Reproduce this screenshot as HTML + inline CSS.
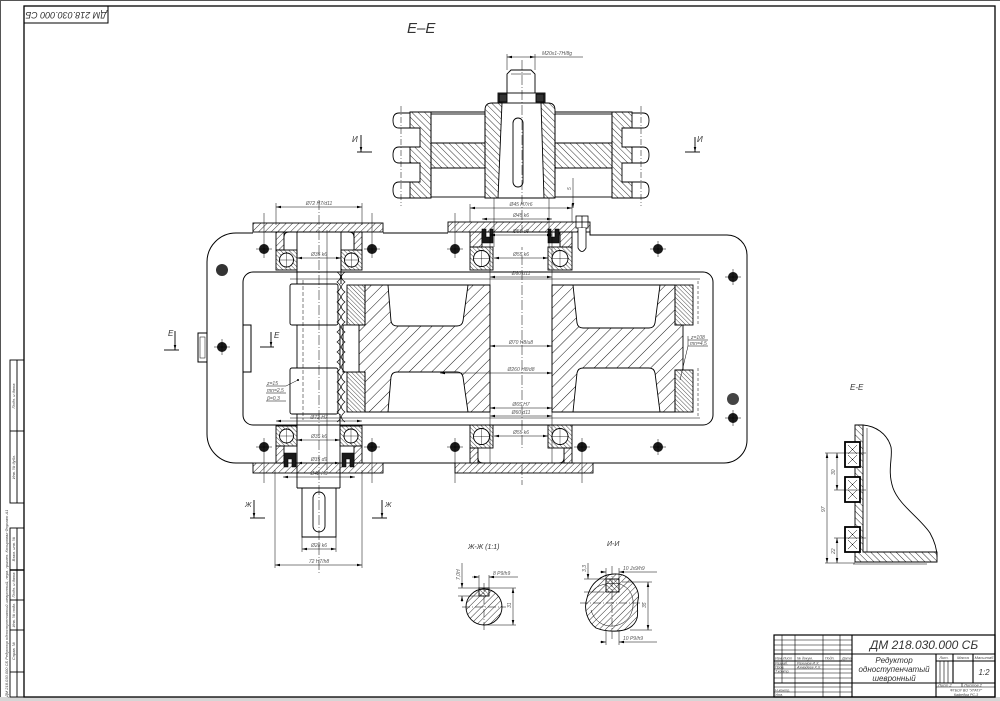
<!DOCTYPE html>
<html><head><meta charset="utf-8">
<style>
html,body{margin:0;padding:0;background:#fff;width:1000px;height:701px;overflow:hidden}
svg{display:block}
text{font-family:"Liberation Sans",sans-serif;font-style:italic;fill:#333}
.d{font-size:5px;fill:#555}
.t{font-size:4px;fill:#444}
</style></head><body>
<svg width="1000" height="701" viewBox="0 0 1000 701" xmlns="http://www.w3.org/2000/svg">
<defs>
 <pattern id="hs" width="4.5" height="4.5" patternUnits="userSpaceOnUse" patternTransform="rotate(45)"><line x1="0" y1="0" x2="0" y2="4.5" stroke="#000" stroke-width="0.8"/></pattern>
 <pattern id="hb" width="4.5" height="4.5" patternUnits="userSpaceOnUse" patternTransform="rotate(-45)"><line x1="0" y1="0" x2="0" y2="4.5" stroke="#000" stroke-width="0.8"/></pattern>
 <pattern id="hw" width="8" height="8" patternUnits="userSpaceOnUse" patternTransform="rotate(45)"><line x1="0" y1="0" x2="0" y2="8" stroke="#000" stroke-width="0.9"/></pattern>
 <pattern id="hd" width="3" height="3" patternUnits="userSpaceOnUse" patternTransform="rotate(-45)"><line x1="0" y1="0" x2="0" y2="3" stroke="#000" stroke-width="0.7"/></pattern>
 <marker id="ar" viewBox="0 0 10 10" refX="10" refY="5" markerWidth="5" markerHeight="5" orient="auto-start-reverse" markerUnits="userSpaceOnUse"><path d="M0,2.5 L10,5 L0,7.5z" fill="#000"/></marker>
</defs>

<!-- page frame -->
<rect x="0" y="697" width="1000" height="4" fill="#d6d6d6"/>
<line x1="0.5" y1="0" x2="0.5" y2="697" stroke="#555" stroke-width="1"/>
<line x1="0" y1="0.5" x2="1000" y2="0.5" stroke="#555" stroke-width="1"/>
<rect x="24" y="6" width="971" height="691" fill="none" stroke="#000" stroke-width="1.3"/>

<!-- top-left stamp -->
<rect x="24" y="6" width="84" height="17" fill="none" stroke="#000" stroke-width="1"/>
<text transform="translate(66,14.5) rotate(180)" font-size="9" text-anchor="middle" dominant-baseline="middle">ДМ 218.030.000 СБ</text>

<!-- left margin -->
<g stroke="#000" stroke-width="0.9" fill="none">
 <rect x="10" y="360" width="14" height="143"/>
 <line x1="17" y1="360" x2="17" y2="503"/>
 <line x1="10" y1="431" x2="24" y2="431"/>
 <rect x="10" y="528" width="14" height="169"/>
 <line x1="17" y1="528" x2="17" y2="697"/>
 <line x1="10" y1="570" x2="24" y2="570" stroke-width="1.4"/>
 <line x1="10" y1="600" x2="24" y2="600"/>
 <line x1="10" y1="630" x2="24" y2="630"/>
 <line x1="10" y1="672" x2="24" y2="672"/>
</g>
<text class="t" transform="translate(15,396) rotate(-90)" text-anchor="middle">Подп. и дата</text>
<text class="t" transform="translate(15,467) rotate(-90)" text-anchor="middle">Инв. № дубл.</text>
<text class="t" transform="translate(15,549) rotate(-90)" text-anchor="middle">Взам. инв. №</text>
<text class="t" transform="translate(15,585) rotate(-90)" text-anchor="middle">Подп. и дата</text>
<text class="t" transform="translate(15,615) rotate(-90)" text-anchor="middle">Инв. № подл.</text>
<text class="t" transform="translate(15,651) rotate(-90)" text-anchor="middle">Справ. №</text>
<text class="t" transform="translate(8,697) rotate(-90)">ДМ 218.030.000 СБ Редуктор одноступенчатый шевронный, перв. примен. Копировал Формат А1</text>

<!-- title E-E -->
<text x="407" y="33" font-size="15">Е–Е</text>

<!-- ===== SPROCKET (top) ===== -->
<g stroke="#000" stroke-width="0.9">
 <path d="M410 112 H431 V198 H410 V182 H420 V163 H410 V147 H420 V128 H410 Z" fill="url(#hb)"/>
 <rect x="431" y="143" width="54" height="25" fill="url(#hb)"/>
 <path d="M485 110 Q485 103 492 103 H502 L498 198 H485 Z" fill="url(#hb)"/>
 <rect x="431" y="114" width="54" height="29" fill="none"/>
 <rect x="431" y="168" width="54" height="29" fill="none"/>
 <line x1="420" y1="112" x2="485" y2="112"/>
 <path d="M410 113 H399 Q393 113 393 120.5 Q393 128 399 128 H410" fill="none"/>
 <path d="M410 147 H399 Q393 147 393 155 Q393 163 399 163 H410" fill="none"/>
 <path d="M410 182 H399 Q393 182 393 190 Q393 198 399 198 H410" fill="none"/>

 <path d="M632 112 H612 V198 H632 V182 H622 V163 H632 V147 H622 V128 H632 Z" fill="url(#hb)"/>
 <rect x="555" y="143" width="57" height="25" fill="url(#hb)"/>
 <path d="M541 103 H548 Q555 103 555 110 V198 H544 Z" fill="url(#hb)"/>
 <rect x="555" y="114" width="57" height="29" fill="none"/>
 <rect x="555" y="168" width="57" height="29" fill="none"/>
 <line x1="555" y1="112" x2="622" y2="112"/>
 <path d="M632 113 H643 Q649 113 649 120.5 Q649 128 643 128 H632" fill="none"/>
 <path d="M632 147 H643 Q649 147 649 155 Q649 163 643 163 H632" fill="none"/>
 <path d="M632 182 H643 Q649 182 649 190 Q649 198 643 198 H632" fill="none"/>

 <line x1="498" y1="198" x2="544" y2="198"/>
 <path d="M507 93 V74 L511 70 H531 L535 74 V93" fill="none"/>
 <line x1="511" y1="74" x2="531" y2="74" stroke-width="0.5"/>
 <rect x="498" y="93" width="47" height="10" fill="none"/>
 <rect x="499" y="94" width="8" height="8" fill="#333"/>
 <rect x="536" y="94" width="8" height="8" fill="#333"/>
 <rect x="513" y="118" width="10" height="69" rx="5" fill="none"/>
</g>
<g stroke="#000" stroke-width="0.5" fill="none">
 <line x1="401" y1="106" x2="401" y2="206" stroke-dasharray="6 2 1 2"/>
 <line x1="641" y1="106" x2="641" y2="206" stroke-dasharray="6 2 1 2"/>
 <line x1="522" y1="60" x2="522" y2="485" stroke-dasharray="10 2 1 2"/>
 <line x1="507" y1="54" x2="507" y2="70"/>
 <line x1="535" y1="54" x2="535" y2="70"/>
 <line x1="507" y1="57" x2="535" y2="57" marker-start="url(#ar)" marker-end="url(#ar)"/>
 <line x1="535" y1="57" x2="583" y2="57"/>
 <line x1="573" y1="178" x2="573" y2="208" marker-end="url(#ar)"/>
</g>
<text class="d" x="542" y="55">М20х1-7H/8g</text>
<text class="d" transform="translate(571,190) rotate(-90)">5</text>

<!-- И markers -->
<g stroke="#000" stroke-width="0.9" fill="none">
 <line x1="361" y1="135" x2="361" y2="152" marker-end="url(#ar)"/>
 <line x1="357" y1="152" x2="372" y2="152"/>
 <line x1="695" y1="137" x2="695" y2="152" marker-end="url(#ar)"/>
 <line x1="685" y1="152" x2="700" y2="152"/>
</g>
<text x="352" y="142" font-size="8">И</text>
<text x="697" y="142" font-size="8">И</text>

<!-- ===== HOUSING ===== -->
<g stroke="#000" stroke-width="1" fill="none">
 <path d="M236 233 H253 M383 233 H448 M590 230 V235 H727 A20 20 0 0 1 747 255 V440 A23 23 0 0 1 724 463 H593 M455 463 H383 M253 463 H236 A29 29 0 0 1 207 434 V262 A29 29 0 0 1 236 233"/>
 <rect x="243" y="272" width="470" height="153" rx="10"/>
 <rect x="243" y="325" width="8" height="47"/>
 <rect x="198" y="333" width="9" height="29"/>
 <rect x="200" y="337" width="5" height="21" stroke-width="0.5"/>
</g>

<!-- left top boss -->
<g stroke="#000" stroke-width="0.9">
 <rect x="253" y="223" width="130" height="9" fill="url(#hs)"/>
 <rect x="276" y="232" width="8" height="18" fill="url(#hs)"/>
 <rect x="354" y="232" width="8" height="18" fill="url(#hs)"/>
 <path d="M284 250 V237 Q284 232 289 232 H349 Q354 232 354 237 V250" fill="#fff"/>
 <!-- center top boss -->
 <rect x="448" y="222" width="142" height="10" fill="url(#hs)"/>
 <rect x="470" y="232" width="12" height="15" fill="url(#hs)"/>
 <rect x="560" y="232" width="12" height="15" fill="url(#hs)"/>
 <path d="M482 247 V236 Q482 232 486 232 H556 Q560 232 560 236 V247" fill="#fff"/>
 <!-- left bottom boss -->
 <rect x="253" y="463" width="130" height="10" fill="url(#hs)"/>
 <rect x="276" y="446" width="8" height="17" fill="url(#hs)"/>
 <rect x="354" y="446" width="8" height="17" fill="url(#hs)"/>
 <!-- center bottom boss -->
 <rect x="455" y="463" width="138" height="10" fill="url(#hs)"/>
 <rect x="470" y="448" width="8" height="15" fill="url(#hs)"/>
 <rect x="564" y="448" width="8" height="15" fill="url(#hs)"/>
 <path d="M478 448 V458 Q478 463 483 463 H559 Q564 463 564 458 V448" fill="#fff"/>
</g>

<!-- seals -->
<g fill="#1a1a1a" stroke="#000" stroke-width="0.6">
 <path d="M482 229 h4 v8 h4 v-8 h3 v14 h-11 z"/>
 <path d="M548 229 h3 v8 h4 v-8 h4 v14 h-11 z"/>
 <path d="M284 467 h4 v-8 h4 v8 h4 v-14 h-12 z"/>
 <path d="M342 467 h4 v-8 h4 v8 h4 v-14 h-12 z"/>
</g>

<!-- bearings -->
<g stroke="#000" stroke-width="0.9">
 <g>
  <rect x="276" y="250" width="21" height="20" fill="url(#hd)"/><circle cx="286.5" cy="260" r="7" fill="#fff"/>
  <rect x="341" y="250" width="21" height="20" fill="url(#hd)"/><circle cx="351.5" cy="260" r="7" fill="#fff"/>
  <rect x="276" y="426" width="21" height="20" fill="url(#hd)"/><circle cx="286.5" cy="436" r="7" fill="#fff"/>
  <rect x="340" y="426" width="22" height="20" fill="url(#hd)"/><circle cx="351" cy="436" r="7" fill="#fff"/>
  <rect x="470" y="247" width="23" height="23" fill="url(#hd)"/><circle cx="481.5" cy="258.5" r="8" fill="#fff"/>
  <rect x="548" y="247" width="24" height="23" fill="url(#hd)"/><circle cx="560" cy="258.5" r="8" fill="#fff"/>
  <rect x="470" y="425" width="23" height="23" fill="url(#hd)"/><circle cx="481.5" cy="436.5" r="8" fill="#fff"/>
  <rect x="548" y="425" width="24" height="23" fill="url(#hd)"/><circle cx="560" cy="436.5" r="8" fill="#fff"/>
 </g>
 <g stroke-width="0.4">
  <line x1="279" y1="260" x2="294" y2="260"/><line x1="286.5" y1="252" x2="286.5" y2="268"/>
  <line x1="344" y1="260" x2="359" y2="260"/><line x1="351.5" y1="252" x2="351.5" y2="268"/>
  <line x1="279" y1="436" x2="294" y2="436"/><line x1="286.5" y1="428" x2="286.5" y2="444"/>
  <line x1="343" y1="436" x2="359" y2="436"/><line x1="351" y1="428" x2="351" y2="444"/>
  <line x1="473" y1="258.5" x2="490" y2="258.5"/><line x1="481.5" y1="250" x2="481.5" y2="267"/>
  <line x1="551" y1="258.5" x2="569" y2="258.5"/><line x1="560" y1="250" x2="560" y2="267"/>
  <line x1="473" y1="436.5" x2="490" y2="436.5"/><line x1="481.5" y1="428" x2="481.5" y2="445"/>
  <line x1="551" y1="436.5" x2="569" y2="436.5"/><line x1="560" y1="428" x2="560" y2="445"/>
 </g>
</g>

<!-- big wheel -->
<g stroke="#000" stroke-width="0.9">
 <path d="M365 285 H490 V412 H365 V372 H359 V325 H365 Z" fill="url(#hw)"/>
 <path d="M388 285 H468 L463 321 Q462 326 457 326 H397 Q392 326 391 321 Z" fill="#fff"/>
 <path d="M391 377 Q392 372 397 372 H457 Q462 372 463 377 L468 412 H388 Z" fill="#fff"/>
 <path d="M552 285 H675 V325 H683 V370 H675 V412 H552 Z" fill="url(#hw)"/>
 <path d="M573 285 H660 L655 323 Q654 328 649 328 H583 Q578 328 577 323 Z" fill="#fff"/>
 <path d="M577 373 Q578 368 583 368 H649 Q654 368 655 373 L660 412 H573 Z" fill="#fff"/>
 <rect x="347" y="285" width="18" height="40" fill="url(#hd)"/>
 <rect x="347" y="372" width="18" height="40" fill="url(#hd)"/>
 <rect x="343" y="325" width="16" height="47" fill="#fff"/>
 <rect x="675" y="285" width="18" height="40" fill="url(#hd)"/>
 <rect x="675" y="370" width="18" height="42" fill="url(#hd)"/>
</g>
<g stroke="#000" stroke-width="0.5" fill="none">
 <line x1="290" y1="279" x2="700" y2="279"/>
 <line x1="290" y1="418" x2="700" y2="418"/>
 <line x1="698" y1="281" x2="698" y2="326" stroke-dasharray="3 2"/>
 <line x1="698" y1="368" x2="698" y2="416" stroke-dasharray="3 2"/>
 <line x1="490" y1="232" x2="490" y2="463"/>
 <line x1="552" y1="232" x2="552" y2="463"/>
 <line x1="494" y1="198" x2="494" y2="247"/>
 <line x1="549" y1="198" x2="549" y2="247"/>
</g>

<!-- pinion -->
<g stroke="#000" stroke-width="0.9" fill="none">
 <rect x="290" y="284" width="48" height="41" rx="2" fill="#fff"/>
 <rect x="290" y="368" width="48" height="46" rx="2" fill="#fff"/>
 <line x1="297" y1="232" x2="297" y2="284"/>
 <line x1="341" y1="232" x2="341" y2="284"/>
 <line x1="297" y1="325" x2="297" y2="368"/>
 <line x1="340" y1="325" x2="340" y2="368"/>
 <line x1="297" y1="414" x2="297" y2="488"/>
 <line x1="340" y1="414" x2="340" y2="488"/>
 <path d="M297 488 H340 M302 488 V537 H336 V488"/>
 <rect x="313" y="492" width="12" height="40" rx="6"/>
 <path d="M337 272 q7 5 0 10 q7 5 0 10 q7 5 0 10 q7 5 0 10 q7 5 0 10 q7 5 0 10 q7 5 0 10 q7 5 0 10 q7 5 0 10 q7 5 0 10 q7 5 0 10 q7 5 0 10 q7 5 0 10 q7 5 0 10 q7 5 0 10" stroke-width="0.7"/>
 <path d="M345 272 q-7 5 0 10 q-7 5 0 10 q-7 5 0 10 q-7 5 0 10 q-7 5 0 10 q-7 5 0 10 q-7 5 0 10 q-7 5 0 10 q-7 5 0 10 q-7 5 0 10 q-7 5 0 10 q-7 5 0 10 q-7 5 0 10 q-7 5 0 10 q-7 5 0 10" stroke-width="0.7"/>
</g>
<g stroke="#000" stroke-width="0.5" fill="none">
 <line x1="319" y1="200" x2="319" y2="575" stroke-dasharray="10 2 1 2"/>
 <line x1="303" y1="280" x2="303" y2="420" stroke-dasharray="4 2"/>
 <line x1="327" y1="230" x2="327" y2="470"/>
</g>

<!-- breather & left plug -->
<g stroke="#000" stroke-width="0.8" fill="#fff">
 <rect x="576" y="216" width="12" height="12"/>
 <line x1="576" y1="222" x2="588" y2="222"/>
 <line x1="582" y1="216" x2="582" y2="228"/>
 <path d="M578 228 V248 Q582 255 586 248 V228"/>
</g>

<!-- bolts -->
<g fill="#1a1a1a">
 <circle cx="264" cy="249" r="5"/><circle cx="372" cy="249" r="5"/><circle cx="455" cy="249" r="5"/>
 <circle cx="658" cy="249" r="5"/><circle cx="733" cy="277" r="5"/><circle cx="222" cy="270" r="6" fill="#333"/>
 <circle cx="222" cy="347" r="5"/><circle cx="733" cy="399" r="6" fill="#444"/><circle cx="733" cy="418" r="5"/>
 <circle cx="264" cy="447" r="5"/><circle cx="372" cy="447" r="5"/><circle cx="455" cy="447" r="5"/>
 <circle cx="582" cy="447" r="5"/><circle cx="658" cy="447" r="5"/>
</g>
<g stroke="#000" stroke-width="0.5">
 <path d="M264 213 V258 M256 249 H272 M372 213 V258 M364 249 H380 M455 213 V258 M447 249 H463 M658 241 V257 M650 249 H666 M733 269 V285 M725 277 H741 M222 339 V355 M214 347 H230 M733 410 V426 M725 418 H741"/>
 <path d="M264 438 V483 M256 447 H272 M372 438 V483 M364 447 H380 M455 438 V483 M447 447 H463 M582 438 V483 M574 447 H590 M658 439 V455 M650 447 H666"/>
</g>

<!-- dimensions gearbox -->
<g stroke="#000" stroke-width="0.5" fill="none">
 <path d="M276 203 V225 M362 203 V225 M470 204 V222 M572 204 V222"/>
 <line x1="276" y1="207" x2="362" y2="207" marker-start="url(#ar)" marker-end="url(#ar)"/>
 <line x1="297" y1="258" x2="341" y2="258" marker-start="url(#ar)" marker-end="url(#ar)"/>
 <line x1="276" y1="421" x2="362" y2="421" marker-start="url(#ar)" marker-end="url(#ar)"/>
 <line x1="297" y1="440" x2="340" y2="440" marker-start="url(#ar)" marker-end="url(#ar)"/>
 <line x1="297" y1="463" x2="340" y2="463" marker-start="url(#ar)" marker-end="url(#ar)"/>
 <line x1="283" y1="477" x2="355" y2="477" marker-start="url(#ar)" marker-end="url(#ar)"/>
 <path d="M302 537 V552 M336 537 V552 M275 470 V568 M362 470 V568"/>
 <line x1="302" y1="549" x2="336" y2="549" marker-start="url(#ar)" marker-end="url(#ar)"/>
 <line x1="275" y1="565" x2="362" y2="565" marker-start="url(#ar)" marker-end="url(#ar)"/>
 <line x1="470" y1="208" x2="572" y2="208" marker-start="url(#ar)" marker-end="url(#ar)"/>
 <line x1="482" y1="219" x2="552" y2="219" marker-start="url(#ar)" marker-end="url(#ar)"/>
 <line x1="490" y1="235" x2="552" y2="235" marker-start="url(#ar)" marker-end="url(#ar)"/>
 <line x1="494" y1="258" x2="548" y2="258" marker-start="url(#ar)" marker-end="url(#ar)"/>
 <line x1="490" y1="277" x2="552" y2="277" marker-start="url(#ar)" marker-end="url(#ar)"/>
 <line x1="490" y1="346" x2="552" y2="346" marker-start="url(#ar)" marker-end="url(#ar)"/>
 <line x1="440" y1="373" x2="552" y2="373" marker-start="url(#ar)" marker-end="url(#ar)"/>
 <line x1="490" y1="408" x2="552" y2="408" marker-start="url(#ar)" marker-end="url(#ar)"/>
 <line x1="490" y1="416" x2="552" y2="416" marker-start="url(#ar)" marker-end="url(#ar)"/>
 <line x1="494" y1="436" x2="548" y2="436" marker-start="url(#ar)" marker-end="url(#ar)"/>
 <path d="M688 336 V346 H708 M688 340 H708 M688 346 L680 380"/>
 <path d="M266 386 H286 L298 380 M266 393 H286 M266 401 H286"/>
</g>
<circle cx="298" cy="380" r="1" fill="#000"/>
<g class="d">
 <text class="d" x="319" y="205" text-anchor="middle">Ø72 H7/d11</text>
 <text class="d" x="319" y="256" text-anchor="middle">Ø35 k6</text>
 <text class="d" x="319" y="419" text-anchor="middle">Ø72 H7</text>
 <text class="d" x="319" y="438" text-anchor="middle">Ø35 k6</text>
 <text class="d" x="319" y="461" text-anchor="middle">Ø35 d9</text>
 <text class="d" x="319" y="475" text-anchor="middle">Ø42 H9</text>
 <text class="d" x="319" y="547" text-anchor="middle">Ø28 k6</text>
 <text class="d" x="319" y="563" text-anchor="middle">72 H7/h8</text>
 <text class="d" x="521" y="206" text-anchor="middle">Ø45 H7/r6</text>
 <text class="d" x="521" y="217" text-anchor="middle">Ø45 k6</text>
 <text class="d" x="521" y="233" text-anchor="middle">Ø50 d9</text>
 <text class="d" x="521" y="256" text-anchor="middle">Ø55 k6</text>
 <text class="d" x="521" y="275" text-anchor="middle">Ø60 d11</text>
 <text class="d" x="521" y="344" text-anchor="middle">Ø70 H8/u8</text>
 <text class="d" x="521" y="371" text-anchor="middle">Ø260 H8/d8</text>
 <text class="d" x="521" y="406" text-anchor="middle">Ø65 H7</text>
 <text class="d" x="521" y="414" text-anchor="middle">Ø60 d11</text>
 <text class="d" x="521" y="434" text-anchor="middle">Ø55 k6</text>
 <text class="d" x="691" y="339">z=108</text>
 <text class="d" x="690" y="345">mn=4,5</text>
 <text class="d" x="267" y="385">z=15</text>
 <text class="d" x="267" y="392">mn=2,5</text>
 <text class="d" x="267" y="400">β=0,3</text>
</g>

<!-- Е markers -->
<g stroke="#000" stroke-width="0.9" fill="none">
 <line x1="175" y1="331" x2="175" y2="350" marker-end="url(#ar)"/>
 <line x1="164" y1="350" x2="179" y2="350"/>
 <line x1="271" y1="332" x2="271" y2="347" marker-end="url(#ar)"/>
 <line x1="260" y1="347" x2="274" y2="347"/>
 <!-- Ж markers -->
 <line x1="254" y1="500" x2="254" y2="518" marker-end="url(#ar)"/>
 <line x1="250" y1="518" x2="265" y2="518"/>
 <line x1="382" y1="500" x2="382" y2="518" marker-end="url(#ar)"/>
 <line x1="372" y1="518" x2="387" y2="518"/>
</g>
<text x="168" y="336" font-size="8">Е</text>
<text x="274" y="338" font-size="8">Е</text>
<text x="245" y="507" font-size="7">Ж</text>
<text x="385" y="507" font-size="7">Ж</text>

<!-- ===== Section Ж-Ж ===== -->
<text x="468" y="549" font-size="7">Ж-Ж (1:1)</text>
<g stroke="#000" stroke-width="0.9">
 <circle cx="484" cy="607" r="18" fill="url(#hs)"/>
 <rect x="479" y="588" width="10" height="8" fill="url(#hd)"/>
</g>
<g stroke="#000" stroke-width="0.5" fill="none">
 <line x1="462" y1="607" x2="506" y2="607" stroke-dasharray="8 2 1 2"/>
 <line x1="484" y1="583" x2="484" y2="630" stroke-dasharray="8 2 1 2"/>
 <path d="M479 575 V588 M489 575 V588"/>
 <line x1="472" y1="577" x2="479" y2="577" marker-end="url(#ar)"/>
 <line x1="489" y1="577" x2="518" y2="577" marker-start="url(#ar)"/>
 <path d="M458 588 H479 M458 596 H479"/>
 <line x1="462" y1="563" x2="462" y2="588" marker-end="url(#ar)"/>
 <line x1="462" y1="596" x2="462" y2="602" marker-start="url(#ar)"/>
 <path d="M489 588 H516 M484 625 H516"/>
 <line x1="513" y1="588" x2="513" y2="625" marker-start="url(#ar)" marker-end="url(#ar)"/>
</g>
<text class="d" x="493" y="575">8 P9/h9</text>
<text class="d" transform="translate(460,580) rotate(-90)">7,0H</text>
<text class="d" transform="translate(511,608) rotate(-90)">31</text>

<!-- ===== Section И-И ===== -->
<text x="607" y="546" font-size="7">И-И</text>
<g stroke="#000" stroke-width="0.9">
 <path d="M598 580 C604 574 620 571 628 578 C636 585 640 592 638 600 C636 610 641 618 632 626 C624 633 606 632 596 628 C588 622 583 610 587 598 C589 590 592 584 598 580 Z" fill="url(#hs)"/>
 <rect x="606" y="579" width="13" height="13" fill="url(#hd)"/>
 <path d="M592 592 C596 585 608 582 620 584 C630 588 634 596 633 606 C632 616 626 624 614 626 C602 627 594 620 591 610" fill="none" stroke-width="0.5"/>
</g>
<g stroke="#000" stroke-width="0.5" fill="none">
 <line x1="580" y1="603" x2="645" y2="603" stroke-dasharray="8 2 1 2"/>
 <line x1="612" y1="566" x2="612" y2="640" stroke-dasharray="8 2 1 2"/>
 <path d="M606 568 V579 M619 568 V579 M606 630 V645 M619 630 V645"/>
 <line x1="600" y1="572" x2="606" y2="572" marker-end="url(#ar)"/>
 <line x1="619" y1="572" x2="657" y2="572" marker-start="url(#ar)"/>
 <line x1="600" y1="642" x2="606" y2="642" marker-end="url(#ar)"/>
 <line x1="619" y1="642" x2="657" y2="642" marker-start="url(#ar)"/>
 <path d="M622 582 H652 M630 630 H652"/>
 <line x1="648" y1="582" x2="648" y2="630" marker-start="url(#ar)" marker-end="url(#ar)"/>
 <path d="M584 579 H606 M584 592 H604"/>
 <line x1="588" y1="563" x2="588" y2="579" marker-end="url(#ar)"/>
</g>
<text class="d" x="623" y="570">10 Js9/h9</text>
<text class="d" x="623" y="640">10 P9/h9</text>
<text class="d" transform="translate(646,608) rotate(-90)">35</text>
<text class="d" transform="translate(586,572) rotate(-90)">3,3</text>

<!-- ===== Detail Е-Е (right) ===== -->
<text x="850" y="390" font-size="8">Е-Е</text>
<g stroke="#000" stroke-width="0.9">
 <path d="M855 425 H863 V552 H937 V562 H855 Z" fill="url(#hb)"/>
 <path d="M863 425 C875 426 887 433 891 447 C893 458 887 470 893 488 C899 505 920 518 930 533 C935 542 937 550 937 557" fill="none"/>
 <line x1="867" y1="428" x2="867" y2="552" stroke-width="0.5"/>
 <line x1="853" y1="564" x2="927" y2="564" stroke-width="0.6"/>
 <rect x="845" y="442" width="15" height="25" fill="#fff" stroke-width="1.8"/>
 <rect x="845" y="477" width="15" height="25" fill="#fff" stroke-width="1.8"/>
 <rect x="845" y="527" width="15" height="25" fill="#fff" stroke-width="1.8"/>
</g>
<g stroke="#000" stroke-width="0.5" fill="none">
 <path d="M848 445 L857 454 M857 445 L848 454 M848 455 L857 464 M857 455 L848 464"/>
 <path d="M848 480 L857 489 M857 480 L848 489 M848 490 L857 499 M857 490 L848 499"/>
 <path d="M848 530 L857 539 M857 530 L848 539 M848 540 L857 549 M857 540 L848 549"/>
 <path d="M825 453 H866 M834 490 H866 M834 538 H866 M825 563 H855"/>
 <line x1="827" y1="453" x2="827" y2="563" marker-start="url(#ar)" marker-end="url(#ar)"/>
 <line x1="837" y1="453" x2="837" y2="490" marker-start="url(#ar)" marker-end="url(#ar)"/>
 <line x1="837" y1="538" x2="837" y2="563" marker-start="url(#ar)" marker-end="url(#ar)"/>
</g>
<text class="d" transform="translate(825,512) rotate(-90)">97</text>
<text class="d" transform="translate(835,475) rotate(-90)">30</text>
<text class="d" transform="translate(835,554) rotate(-90)">22</text>

<!-- ===== Title block ===== -->
<g stroke="#000" fill="none">
 <rect x="774" y="635" width="221" height="62" stroke-width="1.2"/>
 <g stroke-width="0.6">
  <line x1="782" y1="635" x2="782" y2="683"/>
  <line x1="795" y1="635" x2="795" y2="697"/>
  <line x1="823" y1="635" x2="823" y2="697"/>
  <line x1="840" y1="635" x2="840" y2="697"/>
  <line x1="774" y1="640" x2="852" y2="640"/>
  <line x1="774" y1="645" x2="852" y2="645"/>
  <line x1="774" y1="650" x2="852" y2="650"/>
  <line x1="774" y1="665" x2="852" y2="665"/>
  <line x1="774" y1="669" x2="852" y2="669"/>
  <line x1="774" y1="673" x2="852" y2="673"/>
  <line x1="774" y1="678" x2="852" y2="678"/>
  <line x1="774" y1="687" x2="852" y2="687"/>
  <line x1="774" y1="692" x2="852" y2="692"/>
  <line x1="940" y1="661" x2="940" y2="683"/>
  <line x1="944" y1="661" x2="944" y2="683"/>
  <line x1="948" y1="661" x2="948" y2="683"/>
  <line x1="962" y1="683" x2="962" y2="687"/>
  <line x1="936" y1="687" x2="995" y2="687"/>
 </g>
 <g stroke-width="1.1">
  <line x1="852" y1="635" x2="852" y2="697"/>
  <line x1="774" y1="654" x2="995" y2="654"/>
  <line x1="774" y1="661" x2="852" y2="661"/>
  <line x1="774" y1="683" x2="995" y2="683"/>
  <line x1="936" y1="654" x2="936" y2="697"/>
  <line x1="936" y1="661" x2="995" y2="661"/>
  <line x1="953" y1="654" x2="953" y2="683"/>
  <line x1="973" y1="654" x2="973" y2="683"/>
 </g>
</g>
<text x="924" y="649" font-size="12" text-anchor="middle">ДМ 218.030.000 СБ</text>
<text x="894" y="663" font-size="8" text-anchor="middle">Редуктор</text>
<text x="894" y="672" font-size="8" text-anchor="middle">одноступенчатый</text>
<text x="894" y="681" font-size="8" text-anchor="middle">шевронный</text>
<text class="t" x="944" y="659" text-anchor="middle">Лит.</text>
<text class="t" x="963" y="659" text-anchor="middle">Масса</text>
<text class="t" x="984" y="659" text-anchor="middle">Масштаб</text>
<text x="984" y="675" font-size="8" text-anchor="middle">1:2</text>
<text class="t" x="938" y="686.5">Лист  2</text>
<text class="t" x="964" y="686.5">Листов  2</text>
<text class="t" x="966" y="691.5" text-anchor="middle" style="font-size:3.6px">ФГБОУ ВО "УГАТУ"</text>
<text class="t" x="966" y="696" text-anchor="middle" style="font-size:3.6px">Кафедра РС-3</text>
<g class="t" style="font-size:3.6px">
 <text class="t" x="775" y="659.5" style="font-size:3.6px">Изм.</text>
 <text class="t" x="783" y="659.5" style="font-size:3.6px">Лист</text>
 <text class="t" x="797" y="659.5" style="font-size:3.6px">№ докум.</text>
 <text class="t" x="825" y="659.5" style="font-size:3.6px">Подп.</text>
 <text class="t" x="842" y="659.5" style="font-size:3.6px">Дата</text>
 <text class="t" x="775" y="664.5" style="font-size:3.6px">Разраб.</text>
 <text class="t" x="797" y="664.5" style="font-size:3.6px">Рахимов И.Х.</text>
 <text class="t" x="775" y="668.5" style="font-size:3.6px">Пров.</text>
 <text class="t" x="797" y="668.5" style="font-size:3.6px">Ахмадеев Х.Х.</text>
 <text class="t" x="775" y="672.5" style="font-size:3.6px">Т.контр.</text>
 <text class="t" x="775" y="691.5" style="font-size:3.6px">Н.контр.</text>
 <text class="t" x="775" y="696" style="font-size:3.6px">Утв.</text>
</g>
</svg>
</body></html>
